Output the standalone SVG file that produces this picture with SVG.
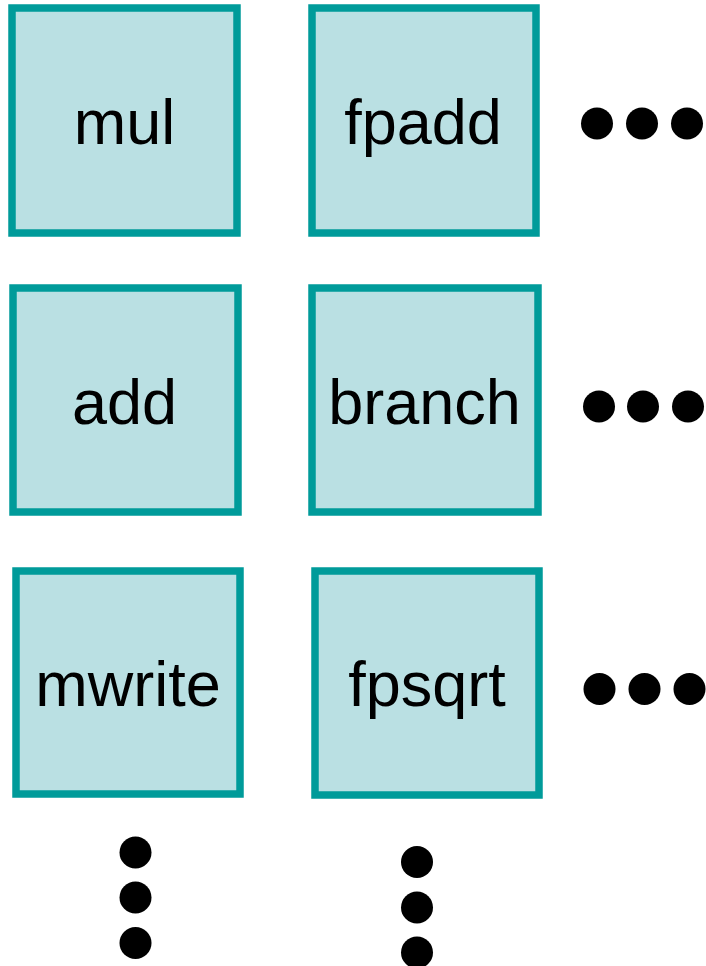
<svg xmlns="http://www.w3.org/2000/svg" width="706" height="966" viewBox="0 0 706 966">
<style>
.box{fill:#BAE0E3;stroke:#009B9A;stroke-width:7.5}
.lbl{font-family:"Liberation Sans",Arial,sans-serif;font-size:63px;fill:#000;text-anchor:middle}
.dot{fill:#000}
</style>
<rect width="706" height="966" fill="#fff"/>
<g id="mul"><rect class="box" x="12" y="8" width="225" height="225"/><text class="lbl" x="124.5" y="144">mul</text></g>
<g id="fpadd"><rect class="box" x="312" y="8" width="224" height="225"/><text class="lbl" x="423" y="144">fpadd</text></g>
<g id="add"><rect class="box" x="13" y="288" width="225" height="224"/><text class="lbl" x="124.5" y="424">add</text></g>
<g id="branch"><rect class="box" x="312" y="288" width="226" height="224"/><text class="lbl" x="424.5" y="424">branch</text></g>
<g id="mwrite"><rect class="box" x="16" y="571" width="224" height="223"/><text class="lbl" x="128" y="706">mwrite</text></g>
<g id="fpsqrt"><rect class="box" x="315" y="571" width="224" height="224"/><text class="lbl" x="427" y="706">fpsqrt</text></g>
<g id="connectors"></g>
<g id="ellipses">
<circle class="dot" cx="597" cy="123.5" r="16"/><circle class="dot" cx="642" cy="123.5" r="16"/><circle class="dot" cx="687" cy="123.5" r="16"/>
<circle class="dot" cx="599" cy="406.5" r="16"/><circle class="dot" cx="643" cy="406.5" r="16"/><circle class="dot" cx="688" cy="406.5" r="16"/>
<circle class="dot" cx="599.5" cy="689" r="16"/><circle class="dot" cx="644.5" cy="689" r="16"/><circle class="dot" cx="689.5" cy="689" r="16"/>
<circle class="dot" cx="135.5" cy="852.5" r="16"/><circle class="dot" cx="135.5" cy="897.5" r="16"/><circle class="dot" cx="135.5" cy="943" r="16"/>
<circle class="dot" cx="417" cy="862" r="16"/><circle class="dot" cx="417" cy="907.5" r="16"/><circle class="dot" cx="417" cy="952.5" r="16"/>
</g>
</svg>
